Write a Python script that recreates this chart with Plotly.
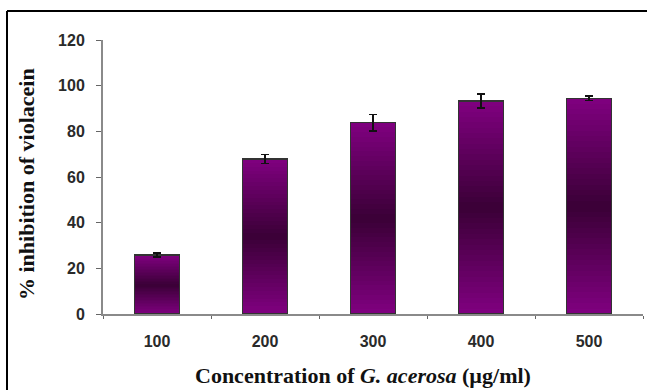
import plotly.graph_objects as go

categories = ["100", "200", "300", "400", "500"]
inhibition = [25.8, 67.9, 83.8, 93.3, 94.5]
error = [0.9, 2.0, 3.6, 3.0, 1.0]
y_ticks = [0, 20, 40, 60, 80, 100, 120]

N_SEG = 40
top_rgb = (128, 0, 128)
mid_rgb = (58, 0, 54)

def seg_color(k):
    t = (k + 0.5) / N_SEG
    f = 1 - abs(t - 0.5) * 2
    c = [round(a + (b - a) * f) for a, b in zip(top_rgb, mid_rgb)]
    return f"rgb({c[0]},{c[1]},{c[2]})"

fig = go.Figure()
for k in range(N_SEG):
    fig.add_trace(go.Bar(
        x=categories, y=[v / N_SEG for v in inhibition],
        marker=dict(color=seg_color(k), line=dict(width=0)),
        showlegend=False, hoverinfo="skip",
    ))

fig.add_trace(go.Bar(
    x=categories, y=inhibition, xaxis="x2", yaxis="y2",
    marker=dict(color="rgba(0,0,0,0)", line=dict(color="#333333", width=1.2)),
    error_y=dict(type="data", array=error, color="#111111", thickness=1.5, width=4),
    showlegend=False,
))

tickfont = dict(family="Liberation Sans", size=16, color="#2a2a2a", weight="bold")
titlefont = dict(family="Liberation Serif", size=22, color="#111111", weight="bold")
fig.update_layout(
    width=647, height=390,
    margin=dict(l=103, r=4, t=40, b=76),
    paper_bgcolor="white", plot_bgcolor="white",
    barmode="stack", bargap=0.59,
    xaxis=dict(
        type="category", range=[-0.5, 4.5], showgrid=False,
        showline=True, linecolor="#8a8a8a", linewidth=2,
        ticks="outside", tickson="boundaries", ticklen=3, tickcolor="#666666",
        tickfont=tickfont, ticklabelstandoff=12,
    ),
    yaxis=dict(
        range=[0, 120], tickvals=y_ticks, showgrid=False, zeroline=False,
        showline=True, linecolor="#8a8a8a", linewidth=2,
        ticks="outside", ticklen=5, tickcolor="#666666",
        tickfont=tickfont, ticklabelstandoff=8,
    ),
    xaxis2=dict(type="category", range=[-0.5, 4.5], overlaying="x", visible=False),
    yaxis2=dict(range=[0, 120], overlaying="y", visible=False),
    shapes=[
        dict(type="line", xref="paper", yref="paper",
             x0=(7 - 103) / 540, x1=(647 - 103) / 540, y0=(314 - 11) / 274, y1=(314 - 11) / 274,
             line=dict(color="black", width=2)),
        dict(type="line", xref="paper", yref="paper",
             x0=(7 - 103) / 540, x1=(7 - 103) / 540, y0=(314 - 11) / 274, y1=(314 - 392) / 274,
             line=dict(color="black", width=2)),
    ],
    annotations=[
        dict(text="% inhibition of violacein", xref="paper", yref="paper",
             x=(26 - 103) / 540, y=(314 - 184) / 274, textangle=-90,
             showarrow=False, xanchor="center", yanchor="middle", font=titlefont),
        dict(text="Concentration of <i>G. acerosa</i> (µg/ml)", xref="paper", yref="paper",
             x=(363 - 103) / 540, y=(314 - 375) / 274,
             showarrow=False, xanchor="center", yanchor="middle", font=titlefont),
    ],
)
fig.write_html("out.html")
